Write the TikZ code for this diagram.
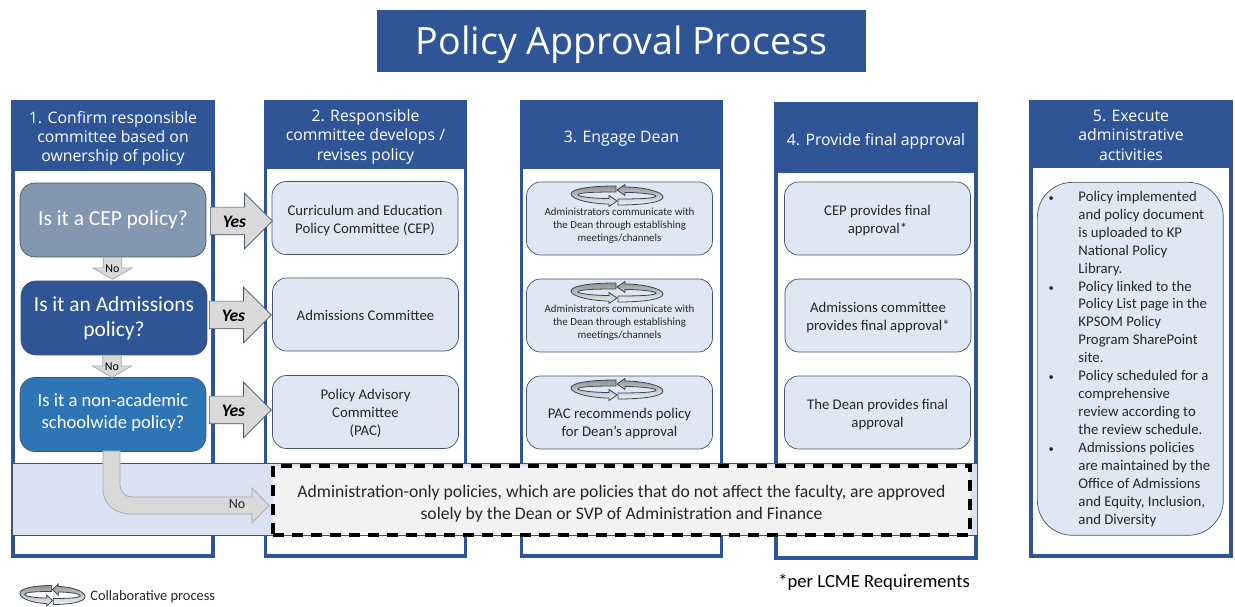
\documentclass[tikz,border=0pt]{standalone}
\usepackage{fontspec}
\setmainfont{Carlito}
\newfontfamily\headfont{Open Sans}
\usetikzlibrary{shapes.arrows}
\definecolor{navy}{HTML}{2F5597}
\definecolor{slate}{HTML}{8497B0}
\definecolor{midblue}{HTML}{2E75B6}
\definecolor{pale}{HTML}{DEE8F4}
\definecolor{band}{HTML}{D9E2F3}
\definecolor{edge}{HTML}{44546A}
\definecolor{arrowgray}{HTML}{D9D9D9}
\definecolor{inktext}{HTML}{262626}
\tikzset{
  colframe/.style={draw=navy,line width=0.07cm,fill=white,minimum width=4cm,minimum height=9.09cm,inner sep=0pt},
  colhead/.style={fill=navy,text=white,font=\headfont\fontsize{9}{11}\selectfont,align=center,minimum width=4.08cm,inner sep=0pt},
  question/.style={draw=edge,fill=#1,text=white,rounded corners=0.3cm,minimum width=3.72cm,minimum height=1.48cm,align=center,inner sep=0pt,font=\fontsize{12.2}{14.2}\selectfont},
  infobox/.style={draw=edge,fill=pale,text=inktext,rounded corners=0.28cm,minimum width=3.72cm,minimum height=1.46cm,align=center,inner sep=0pt,font=\fontsize{8.4}{10.2}\selectfont},
  smalltext/.style={text=inktext,align=center,inner sep=0pt,font=\fontsize{6.2}{7.4}\selectfont},
  yesarrow/.style={single arrow,draw=edge,fill=arrowgray,anchor=tail,inner sep=0pt,text height=0.41cm,text depth=0.13cm,minimum height=1.24cm,minimum width=1.1cm,single arrow head extend=0.28cm,single arrow tip angle=90,font=\bfseries\itshape\fontsize{10}{11}\selectfont},
  noarrow/.style={single arrow,shape border rotate=270,draw=gray!70,fill=arrowgray,anchor=tail,inner sep=0pt,text width=0.36cm,align=center,minimum height=0.44cm,minimum width=0.78cm,single arrow head extend=0.21cm,single arrow tip angle=120,font=\fontsize{6.8}{8}\selectfont},
  collab/.pic={
    \foreach \turn in {0,180}{
      \draw[rotate=\turn,draw=edge!80!black,line width=0.45pt,top color=gray!85,bottom color=gray!10]
        (-1,-9.5) .. controls (-25,-9.5) and (-46,-7) .. (-46,-1.5)
        .. controls (-46,4) and (-25,8.5) .. (-8,8.5) -- (-8,11) -- (0,5.5) -- (-8,0) -- (-8,3)
        .. controls (-25,3) and (-39,1) .. (-39,-0.5) .. controls (-39,-3) and (-22,-3.5) .. (-1,-3.5) -- cycle;
    }
  }
}
\newcommand{\bl}{\makebox[19pt][l]{\hspace*{2pt}\fontsize{6}{6}\selectfont •}}
\newcommand{\nb}{\hspace*{19pt}}
\newcommand{\drop}[1]{\rule{0pt}{#1}}
\begin{document}
\begin{tikzpicture}[x=0.02cm,y=-0.02cm]
  \useasboundingbox (0,0) rectangle (1235,607);
  % title
  \node[fill=navy,text=white,minimum width=9.78cm,minimum height=1.24cm,inner sep=0pt,font=\headfont\fontsize{21.4}{24}\selectfont] (title) at (621.5,41) {\drop{21pt}Policy Approval Process};
  % columns
  \node[colframe] (col1) at (113,329) {};
  \node[colframe] (col2) at (365.5,329) {};
  \node[colframe] (col3) at (621.5,329) {};
  \node[colframe] (col4) at (876,331) {};
  \node[colframe] (col5) at (1131,329) {};
  \node[colhead,minimum height=1.42cm] (head1) at (113,135.5) {\drop{10.3pt}1. Confirm responsible\\committee based on\\ownership of policy};
  \node[colhead,minimum height=1.38cm] (head2) at (365.5,134.5) {\drop{9.2pt}2. Responsible\\committee develops /\\revises policy};
  \node[colhead,minimum height=1.38cm] (head3) at (621.5,134.5) {\drop{11.5pt}3. Engage Dean};
  \node[colhead,minimum height=1.42cm] (head4) at (876,137.5) {\drop{11.5pt}4. Provide final approval};
  \node[colhead,minimum height=1.36cm] (head5) at (1131,134) {\drop{8pt}5. Execute\\administrative\\activities};
  % band along the bottom
  \node[draw=edge,fill=band,minimum width=19.3cm,minimum height=1.44cm,inner sep=0pt] (strip) at (494.5,499) {};
  \node[draw=black,line width=0.07cm,dash pattern=on 0.22cm off 0.16cm,fill=black!5,text=inktext,align=center,minimum width=13.94cm,minimum height=1.38cm,inner sep=0pt,font=\fontsize{10.06}{12.6}\selectfont] (adminonly) at (621.5,500.5) {\drop{11pt}Administration-only policies, which are policies that do not affect the faculty, are approved\\solely by the Dean or SVP of Administration and Finance};
  % questions
  \node[question=slate] (cep) at (113,220) {Is it a CEP policy?};
  \node[question=navy] (adm) at (114,318) {Is it an Admissions\\policy?};
  \node[question=midblue,font=\fontsize{10.6}{12.6}\selectfont] (nonacad) at (113,414.5) {Is it a non-academic\\schoolwide policy?\rule[-3.6pt]{0pt}{1pt}};
  % committees
  \node[infobox] (com1) at (365,218) {\drop{8.5pt}Curriculum and Education\\Policy Committee (CEP)};
  \node[infobox] (com2) at (365.5,314.5) {\drop{7.3pt}Admissions Committee};
  \node[infobox] (com3) at (365.5,412) {\drop{7.3pt}Policy Advisory\\Committee\\(PAC)};
  % dean
  \node[infobox] (dean1) at (619.5,218.5) {};
  \node[infobox] (dean2) at (619.5,315.5) {};
  \node[infobox] (dean3) at (619.5,412.5) {};
  \pic at (617,195.5) {collab};
  \pic at (617,292.5) {collab};
  \pic at (617,389.5) {collab};
  \node[smalltext] (talk1) at (619.5,225.5) {Administrators communicate with\\the Dean through establishing\\meetings/channels};
  \node[smalltext] (talk2) at (619.5,322.5) {Administrators communicate with\\the Dean through establishing\\meetings/channels};
  \node[smalltext,font=\fontsize{8.4}{10.2}\selectfont] (talk3) at (619.5,424) {PAC recommends policy\\for Dean’s approval};
  % final approval
  \node[infobox] (fin1) at (877.5,218.5) {\drop{8.5pt}CEP provides final\\approval*};
  \node[infobox] (fin2) at (878,315.5) {\drop{8.5pt}Admissions committee\\provides final approval*};
  \node[infobox] (fin3) at (877.5,412.5) {\drop{8.5pt}The Dean provides final\\approval};
  % admin activities
  \node[infobox,rounded corners=0.7cm,minimum height=7.06cm,anchor=north west,align=left] (admin) at (1037,182) {\bl Policy implemented\\\nb and policy document\\\nb is uploaded to KP\\\nb National Policy\\\nb Library.\\\bl Policy linked to the\\\nb Policy List page in the\\\nb KPSOM Policy\\\nb Program SharePoint\\\nb site.\\\bl Policy scheduled for a\\\nb comprehensive\\\nb review according to\\\nb the review schedule.\\\bl Admissions policies\\\nb are maintained by the\rule{3.1pt}{0pt}\\\nb Office of Admissions\\\nb and Equity, Inclusion,\\\nb and Diversity};
  % arrows
  \node[yesarrow] (yes1) at (210,221) {Yes};
  \node[yesarrow] (yes2) at (209,315) {Yes};
  \node[yesarrow] (yes3) at (209,410) {Yes};
  \node[noarrow] (no1) at (112.5,257) {\drop{8pt}No};
  \node[noarrow] (no2) at (112,355) {\drop{8pt}No};
  \draw[draw=gray!70,fill=arrowgray] (103,451) -- (103,488) .. controls (103,505) and (115,514) .. (132,514) -- (252,514) -- (252,523) -- (269,505.5) -- (252,488) -- (252,497) -- (132,497) .. controls (125,497) and (120,492) .. (120,485) -- (120,451) -- cycle;
  \node[inner sep=0pt,font=\fontsize{8}{9}\selectfont,text=inktext] (no3) at (237,504) {No};
  % legend
  \pic[xscale=0.71] at (52.5,595) {collab};
  \node[anchor=west,inner sep=0pt,font=\fontsize{8.2}{9}\selectfont,text=inktext] (legend) at (90,597) {Collaborative process};
  \node[anchor=west,inner sep=0pt,font=\fontsize{10.6}{12}\selectfont,text=black] (lcme) at (778,582) {*per LCME Requirements};
\end{tikzpicture}
\end{document}
